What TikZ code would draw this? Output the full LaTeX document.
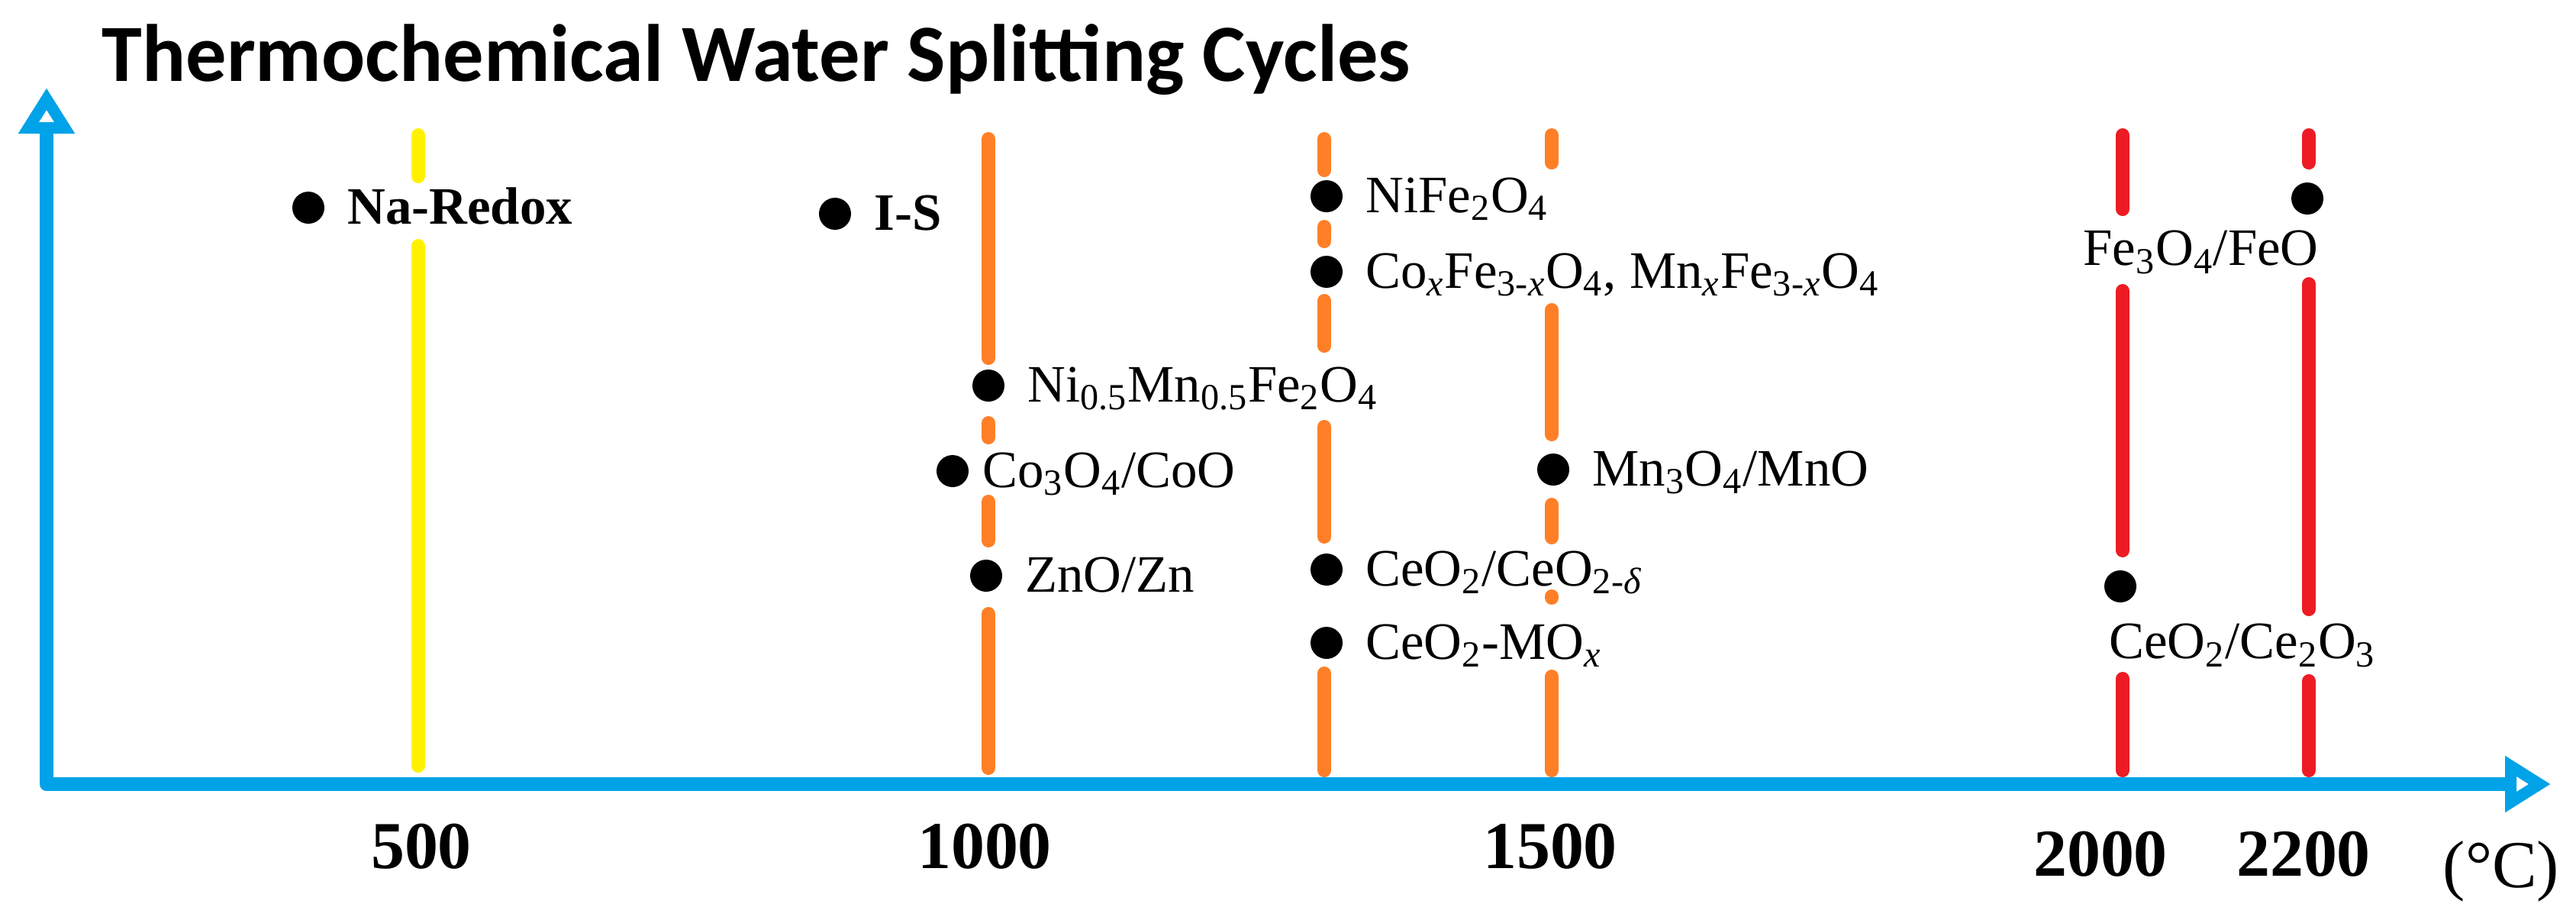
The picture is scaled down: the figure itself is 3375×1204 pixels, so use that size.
\documentclass[tikz,border=0pt]{standalone}
\usepackage{fontspec}
\setmainfont{Liberation Serif}
\newfontfamily\titlefont{Carlito}
\usetikzlibrary{positioning,arrows.meta}
\tikzset{
    >={Triangle[open,length=6mm,width=7mm]},
    % Style for the two axes
    axis line/.style={
        line width=1.8mm,
        color=axisBlue,
        line join=round,
        <->
    },
    % Vertical temperature marks
    temp line/.style={
        line width=1.8mm,
        line cap=round
    },
    % Black points of the cycles
    dot/.style={
        circle,
        fill=black,
        inner sep=0pt,
        minimum size=4.2mm
    },
    % Style for cycle names
    cycle label/.style={
        font=\fontsize{19.6}{24}\selectfont,
        inner sep=0pt,
        text height=5.6mm,
        text depth=1.4mm
    },
    % Style for temperature values
    tick label/.style={
        font=\fontsize{25}{30}\selectfont\bfseries,
        inner sep=0pt,
        anchor=base
    }
}
\definecolor{axisBlue}{RGB}{0,162,232}
\definecolor{lowTemp}{RGB}{255,242,0}
\definecolor{midTemp}{RGB}{255,127,39}
\definecolor{highTemp}{RGB}{237,28,36}

\begin{document}
\begin{tikzpicture}[x=0.1mm,y=-0.1mm]

% Set the canvas size
\path[use as bounding box] (0,0) rectangle (3375,1204);

% Title
\node[anchor=base west, inner sep=0pt, font=\titlefont\fontsize{30.3}{36}\selectfont\bfseries] (title) at (133,106) {Thermochemical Water Splitting Cycles};

% Temperature marks, broken where the labels sit
\foreach \ya/\yb in {177/231, 322/1003}
    \draw[temp line, lowTemp] (548,\ya) -- (548,\yb);
\foreach \ya/\yb in {182/469, 554/573, 657/708, 804/1006}
    \draw[temp line, midTemp] (1295,\ya) -- (1295,\yb);
\foreach \ya/\yb in {182/223, 297/316, 394/453, 559/703, 882/1009}
    \draw[temp line, midTemp] (1735,\ya) -- (1735,\yb);
\foreach \ya/\yb in {177/213, 406/569, 661/704, 781/783, 886/1009}
    \draw[temp line, midTemp] (2033,\ya) -- (2033,\yb);
\foreach \ya/\yb in {177/274, 381/721, 889/1009}
    \draw[temp line, highTemp] (2781,\ya) -- (2781,\yb);
\foreach \ya/\yb in {177/213, 372/798, 892/1009}
    \draw[temp line, highTemp] (3025,\ya) -- (3025,\yb);

% Axes
\draw[axis line] (61,115) -- (61,1027) -- (3342,1027);

% Cycles and their names
\node[dot] (nar) at (404,272) {};
\node[cycle label, right=2.9mm of nar] (nartext) {\textbf{Na-Redox}};
\node[dot] (is) at (1094,280) {};
\node[cycle label, right=2.9mm of is] (istext) {\textbf{I-S}};
\node[dot] (nife) at (1738,257) {};
\node[cycle label, right=2.9mm of nife] (nifetext) {NiFe\textsubscript{2}O\textsubscript{4}};
\node[dot] (cofe) at (1738,356) {};
\node[cycle label, right=2.9mm of cofe] (cofetext) {Co\textsubscript{\textit{x}}Fe\textsubscript{3-\textit{x}}O\textsubscript{4}, Mn\textsubscript{\textit{x}}Fe\textsubscript{3-\textit{x}}O\textsubscript{4}};
\node[dot] (nimn) at (1295,505) {};
\node[cycle label, right=2.9mm of nimn] (nimntext) {Ni\textsubscript{0.5}Mn\textsubscript{0.5}Fe\textsubscript{2}O\textsubscript{4}};
\node[dot] (coo) at (1248,617) {};
\node[cycle label, right=1.7mm of coo] (cootext) {Co\textsubscript{3}O\textsubscript{4}/CoO};
\node[dot] (mno) at (2035,615) {};
\node[cycle label, right=2.9mm of mno] (mnotext) {Mn\textsubscript{3}O\textsubscript{4}/MnO};
\node[dot] (zno) at (1292,754) {};
\node[cycle label, right=2.9mm of zno] (znotext) {ZnO/Zn};
\node[dot] (ceo) at (1738,746) {};
\node[cycle label, right=2.9mm of ceo] (ceotext) {CeO\textsubscript{2}/CeO\textsubscript{2-\textit{δ}}};
\node[dot] (mox) at (1738,842) {};
\node[cycle label, right=2.9mm of mox] (moxtext) {CeO\textsubscript{2}-MO\textsubscript{\textit{x}}};
\node[dot] (feo) at (3023,260) {};
\node[cycle label, below=1.5mm of feo.south east, anchor=north east] (feotext) {Fe\textsubscript{3}O\textsubscript{4}/FeO};
\node[dot] (cethree) at (2778,768) {};
\node[cycle label, below=2.2mm of cethree.south west, anchor=north west] (cethreetext) {CeO\textsubscript{2}/Ce\textsubscript{2}O\textsubscript{3}};

% Temperature values
\node[tick label] (t500) at (552,1137) {500};
\node[tick label] (t1000) at (1290,1137) {1000};
\node[tick label] (t1500) at (2031,1137) {1500};
\node[tick label] (t2000) at (2752,1147) {2000};
\node[tick label] (t2200) at (3018,1147) {2200};
\node[tick label, font=\fontsize{25}{30}\selectfont] (unit) at (3277,1162) {(°C)};

\end{tikzpicture}
\end{document}
